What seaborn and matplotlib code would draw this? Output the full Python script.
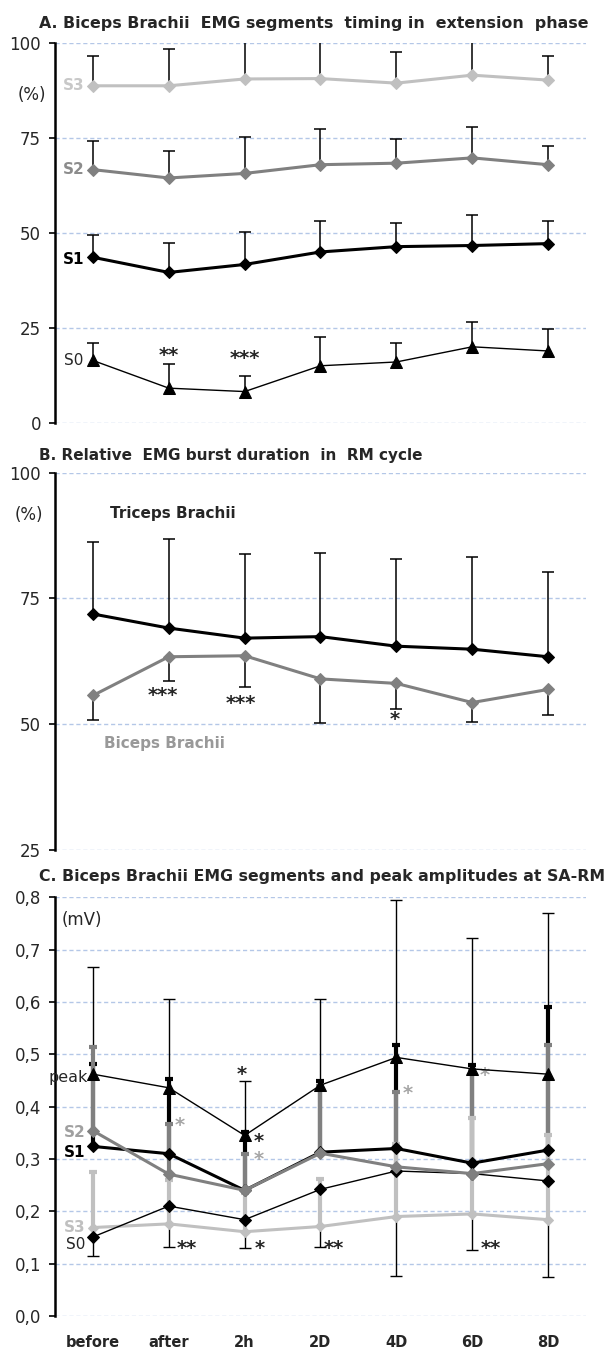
import numpy as np
import pandas as pd
import matplotlib
matplotlib.use("Agg")
import matplotlib.pyplot as plt
import seaborn as sns

# ---------------------------------------------------------------- data
timepoints = ["before", "after", "2h", "2D", "4D", "6D", "8D"]

# A. onset timing of biceps EMG segments within the extension phase (%)
a_s3_mean = [88.8, 88.8, 90.6, 90.7, 89.5, 91.6, 90.3]
a_s3_sd = [7.8, 9.6, 11.0, 11.0, 8.2, 10.0, 6.3]
a_s2_mean = [66.7, 64.5, 65.7, 68.0, 68.4, 69.8, 68.0]
a_s2_sd = [7.6, 7.2, 9.7, 9.3, 6.4, 8.1, 4.9]
a_s1_mean = [43.6, 39.6, 41.7, 45.0, 46.4, 46.7, 47.2]
a_s1_sd = [6.0, 7.8, 8.5, 8.2, 6.3, 8.0, 6.0]
a_s0_mean = [16.4, 9.1, 8.2, 15.0, 16.0, 20.0, 18.9]
a_s0_sd = [4.7, 6.3, 4.2, 7.6, 5.1, 6.5, 5.9]
a_yticks = [0, 25, 50, 75, 100]

# B. relative EMG burst duration in the RM cycle (%)
b_tri_mean = [71.9, 69.1, 67.1, 67.4, 65.5, 64.9, 63.4]
b_tri_sd = [14.4, 17.7, 16.7, 16.7, 17.3, 18.3, 16.8]
b_bic_mean = [55.7, 63.4, 63.6, 59.0, 58.1, 54.3, 56.9]
b_bic_sd = [4.9, 4.8, 6.2, 8.8, 5.0, 3.8, 5.0]
b_yticks = [25, 50, 75, 100]

# C. biceps segment and peak amplitudes at SA-RM (mV)
c_peak_mean = [0.462, 0.436, 0.345, 0.441, 0.494, 0.472, 0.462]
c_peak_sd = [0.205, 0.169, 0.104, 0.164, 0.300, 0.250, 0.307]
c_s1_mean = [0.324, 0.310, 0.240, 0.313, 0.320, 0.292, 0.317]
c_s1_sd = [0.157, 0.142, 0.112, 0.135, 0.198, 0.187, 0.274]
c_s2_mean = [0.354, 0.271, 0.240, 0.311, 0.285, 0.272, 0.291]
c_s2_sd = [0.159, 0.096, 0.070, 0.129, 0.142, 0.198, 0.227]
c_s3_mean = [0.169, 0.176, 0.161, 0.171, 0.190, 0.195, 0.184]
c_s3_sd = [0.106, 0.084, 0.074, 0.090, 0.139, 0.183, 0.162]
c_s0_mean = [0.151, 0.210, 0.184, 0.242, 0.277, 0.272, 0.258]
c_s0_sd = [0.036, 0.078, 0.055, 0.111, 0.201, 0.145, 0.183]
c_yticks = [0.0, 0.1, 0.2, 0.3, 0.4, 0.5, 0.6, 0.7, 0.8]
c_yticklabels = ["0,0", "0,1", "0,2", "0,3", "0,4", "0,5", "0,6", "0,7", "0,8"]

# ---------------------------------------------------------------- style
sns.set_theme(style="white")
plt.rcParams["font.family"] = ["DejaVu Sans"]

BLACK = "#000000"
DARK = "#808080"
LIGHT = "#c0c0c0"
GRID = "#b4c7e7"
INK = "#262626"
GSTAR = "#a6a6a6"

x = np.arange(len(timepoints))

fig = plt.figure(figsize=(6.07, 13.53), dpi=100)
L, W = 0.0906, 0.8748
axA = fig.add_axes([L, 0.6876, W, 0.2804])
axB = fig.add_axes([L, 0.3718, W, 0.2789])
axC = fig.add_axes([L, 0.02735, W, 0.3095])


def setup(ax, yticks, ylim, labels=None):
    ax.set_xlim(-0.5, 6.5)
    ax.set_ylim(*ylim)
    ax.set_yticks(yticks)
    if labels is not None:
        ax.set_yticklabels(labels)
    for s in ("top", "right", "bottom"):
        ax.spines[s].set_visible(False)
    ax.spines["left"].set_color(BLACK)
    ax.spines["left"].set_linewidth(1.8)
    ax.yaxis.grid(True, color=GRID, linestyle=(0, (3, 2)), linewidth=1.0)
    ax.xaxis.grid(False)
    ax.set_axisbelow(True)
    ax.tick_params(axis="y", left=True, length=4, width=1.2, color=BLACK,
                   labelsize=12, pad=6, labelcolor=INK)
    ax.set_facecolor("white")


def series(ax, mean, sd, color, lw, marker, ms, ecolor, elw, cap,
           down=False, z=4, ez=2):
    df = pd.DataFrame({"t": x, "v": mean})
    sns.lineplot(data=df, x="t", y="v", ax=ax, color=color, lw=lw,
                 marker=marker, markersize=ms, markerfacecolor=color,
                 markeredgecolor=color, zorder=z, legend=False)
    sd = np.asarray(sd, dtype=float)
    zero = np.zeros_like(sd)
    yerr = [sd, zero] if down else [zero, sd]
    cont = ax.errorbar(x, mean, yerr=yerr, fmt="none", ecolor=ecolor,
                       elinewidth=elw, capsize=cap, capthick=elw, zorder=ez)
    # keep only the cap at the free end of each one-sided bar
    for cl in cont.lines[1]:
        yd = np.asarray(cl.get_ydata(), dtype=float)
        if np.allclose(yd, np.asarray(mean, dtype=float)):
            cl.set_visible(False)
    ax.set_xlabel("")
    ax.set_ylabel("")


def star(ax, xv, yv, s, color=INK, size=14):
    ax.annotate(s, (xv, yv), xytext=(0, -8), textcoords="offset points",
                ha="center", va="baseline", fontsize=size, color=color,
                fontweight="bold", annotation_clip=False)


def title(y, s, size=11.0):
    fig.text(0.065, y, s, ha="left", va="center", fontsize=size,
             fontweight="bold", color=INK)


# ---------------------------------------------------------------- panel A
setup(axA, a_yticks, (0, 100))
series(axA, a_s3_mean, a_s3_sd, LIGHT, 2.2, "D", 6.5, BLACK, 1.1, 4)
series(axA, a_s2_mean, a_s2_sd, DARK, 2.2, "D", 6.5, BLACK, 1.1, 4)
series(axA, a_s1_mean, a_s1_sd, BLACK, 2.2, "D", 6.5, BLACK, 1.1, 4)
series(axA, a_s0_mean, a_s0_sd, BLACK, 1.0, "^", 8.5, BLACK, 1.1, 4)
axA.set_xticks([])

axA.text(-0.11, a_s3_mean[0], "S3", ha="right", va="center", fontsize=11,
         fontweight="bold", color="#c8c8c8")
axA.text(-0.11, a_s2_mean[0], "S2", ha="right", va="center", fontsize=11,
         fontweight="bold", color="#8c8c8c")
axA.text(-0.11, 43.0, "S1", ha="right", va="center", fontsize=11,
         fontweight="bold", color=BLACK)
axA.text(-0.13, a_s0_mean[0], "S0", ha="right", va="center", fontsize=11,
         color=INK)
axA.text(-0.8, 86.3, "(%)", ha="center", va="center", fontsize=12,
         color=INK, clip_on=False)
star(axA, 1, 19.2, "**")
star(axA, 2, 18.3, "***")

title(0.9828, "A. Biceps Brachii  EMG segments  timing in  extension  phase", 11.4)

# ---------------------------------------------------------------- panel B
setup(axB, b_yticks, (25, 100))
series(axB, b_tri_mean, b_tri_sd, BLACK, 2.2, "D", 6.5, BLACK, 1.1, 4)
series(axB, b_bic_mean, b_bic_sd, DARK, 2.2, "D", 6.5, BLACK, 1.1, 4,
       down=True)
axB.set_xticks([])
axB.text(0.22, 91.8, "Triceps Brachii", ha="left", va="center", fontsize=11,
         fontweight="bold", color=INK)
axB.text(0.15, 46.1, "Biceps Brachii", ha="left", va="center", fontsize=11,
         fontweight="bold", color="#999999")
axB.text(-0.84, 91.5, "(%)", ha="center", va="center", fontsize=12,
         color=INK, clip_on=False)
star(axB, 0.92, 56.9, "***")
star(axB, 1.95, 55.3, "***")
star(axB, 3.98, 52.1, "*")

title(0.6637, "B. Relative  EMG burst duration  in  RM cycle")

# ---------------------------------------------------------------- panel C
setup(axC, c_yticks, (0, 0.8), c_yticklabels)
series(axC, c_peak_mean, c_peak_sd, BLACK, 1.0, "^", 8.0, BLACK, 1.0, 4,
       z=6, ez=1.5)
series(axC, c_s1_mean, c_s1_sd, BLACK, 2.2, "D", 6.5, BLACK, 3.0, 3,
       z=4.5, ez=2.0)
series(axC, c_s2_mean, c_s2_sd, DARK, 2.2, "D", 6.5, DARK, 3.0, 3,
       z=4.6, ez=2.1)
series(axC, c_s3_mean, c_s3_sd, LIGHT, 2.2, "D", 5.0, LIGHT, 3.0, 3,
       z=4.3, ez=2.2)
series(axC, c_s0_mean, c_s0_sd, BLACK, 1.0, "D", 6.5, BLACK, 1.0, 4,
       down=True, z=4.4, ez=1.6)
axC.set_xticks(x)
axC.set_xticklabels(timepoints)
axC.tick_params(axis="x", length=0, pad=14, labelsize=10.5)
for t in axC.get_xticklabels():
    t.set_fontweight("bold")
    t.set_color(INK)

axC.text(-0.15, 0.757, "(mV)", ha="center", va="center", fontsize=12,
         color=INK, clip_on=False)
axC.text(-0.58, 0.455, "peak", ha="left", va="center", fontsize=11.5,
         color=INK, clip_on=False)
axC.text(-0.1, 0.350, "S2", ha="right", va="center", fontsize=11,
         fontweight="bold", color="#a0a0a0")
axC.text(-0.1, 0.312, "S1", ha="right", va="center", fontsize=11,
         fontweight="bold", color=BLACK)
axC.text(-0.1, 0.169, "S3", ha="right", va="center", fontsize=11,
         fontweight="bold", color="#c0c0c0")
axC.text(-0.1, 0.1375, "S0", ha="right", va="center", fontsize=11,
         color=INK)

star(axC, 1.15, 0.374, "*", GSTAR)
star(axC, 1.96, 0.472, "*")
star(axC, 2.19, 0.344, "*")
star(axC, 2.19, 0.309, "*", GSTAR)
star(axC, 4.15, 0.435, "*", GSTAR)
star(axC, 5.17, 0.470, "*", GSTAR)
star(axC, 1.24, 0.140, "**")
star(axC, 2.20, 0.140, "*")
star(axC, 3.18, 0.140, "**")
star(axC, 5.25, 0.140, "**")

title(0.352, "C. Biceps Brachii EMG segments and peak amplitudes at SA-RM", 11.3)

fig.savefig("out.png", dpi=100, facecolor="white")
